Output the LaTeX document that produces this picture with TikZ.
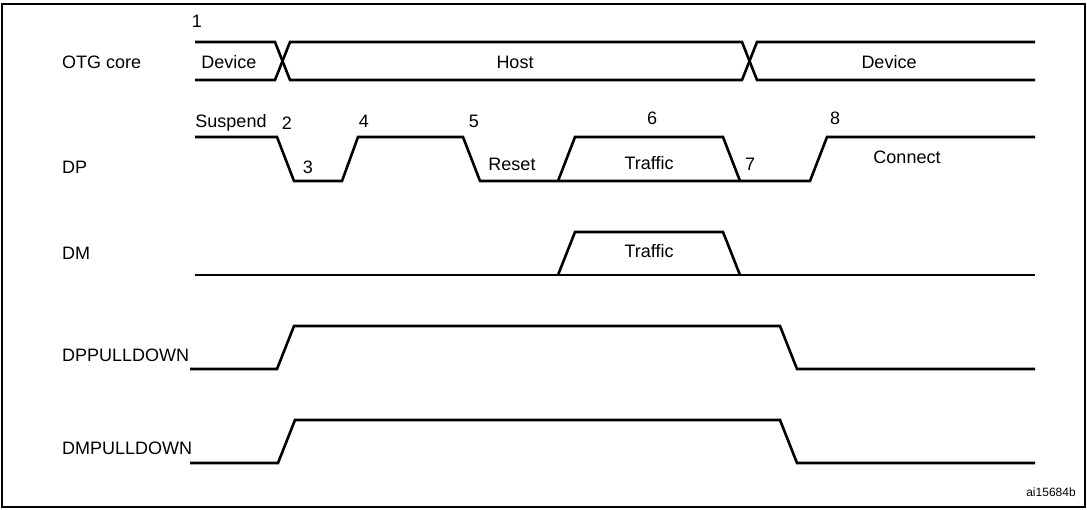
\documentclass[tikz,border=0pt]{standalone}
\usepackage{fontspec}
\setmainfont{Liberation Sans}
\begin{document}
\begin{tikzpicture}[x=1pt,y=-1pt,
  sig/.style={line width=2.6pt,line join=miter},
  lbl/.style={font=\fontsize{18}{20}\selectfont,inner sep=0pt}]
\useasboundingbox (0,0) rectangle (1087,509);
\draw[line width=1.5pt] (2,4) -- (1085,4) -- (1085,507) -- (2,507) -- cycle;
% OTG core
\draw[sig] (195,42) -- (275,42) -- (290,80) -- (742,80) -- (757,42) -- (1035,42);
\draw[sig] (195,80) -- (275,80) -- (290,42) -- (742,42) -- (757,80) -- (1035,80);
% DP
\draw[sig] (195,137) -- (277,137) -- (294,181) -- (342,181) -- (358,137) -- (463,137) -- (480,181) -- (810,181) -- (827,137) -- (1035,137);
\draw[sig] (558,181) -- (575,137) -- (723,137) -- (740,181);
% DM
\draw[sig] (195,275) -- (1035,275);
\draw[sig] (558,275) -- (575,232) -- (723,232) -- (740,275);
% DPPULLDOWN
\draw[sig] (190,369) -- (277,369) -- (294,326) -- (780,326) -- (797,369) -- (1035,369);
% DMPULLDOWN
\draw[sig] (190,463) -- (278,463) -- (295,420) -- (780,420) -- (797,463) -- (1035,463);
% labels
\node[lbl,anchor=west] (l1) at (62,62) {OTG core};
\node[lbl,anchor=west] (l2) at (62,167) {DP};
\node[lbl,anchor=west] (l3) at (62,253) {DM};
\node[lbl,anchor=west] (l4) at (62,355) {DPPULLDOWN};
\node[lbl,anchor=west] (l5) at (62,448) {DMPULLDOWN};
\node[lbl] (n1) at (197,21) {1};
\node[lbl] (dev1) at (229,62) {Device};
\node[lbl] (host) at (515,62) {Host};
\node[lbl] (dev2) at (889,62) {Device};
\node[lbl] (sus) at (231,123) {Suspend};
\node[lbl] (n2) at (287,123) {2};
\node[lbl] (n3) at (308,167) {3};
\node[lbl] (n4) at (364,121) {4};
\node[lbl] (n5) at (474,121) {5};
\node[lbl] (rst) at (512,164) {Reset};
\node[lbl] (n6) at (652,118) {6};
\node[lbl] (tr1) at (649,163) {Traffic};
\node[lbl] (n7) at (750,164) {7};
\node[lbl] (n8) at (835,118) {8};
\node[lbl] (con) at (907,157) {Connect};
\node[lbl] (tr2) at (649,251) {Traffic};
\node[inner sep=0pt,font=\fontsize{12}{14}\selectfont] (id) at (1051,492) {ai15684b};
\end{tikzpicture}
\end{document}
